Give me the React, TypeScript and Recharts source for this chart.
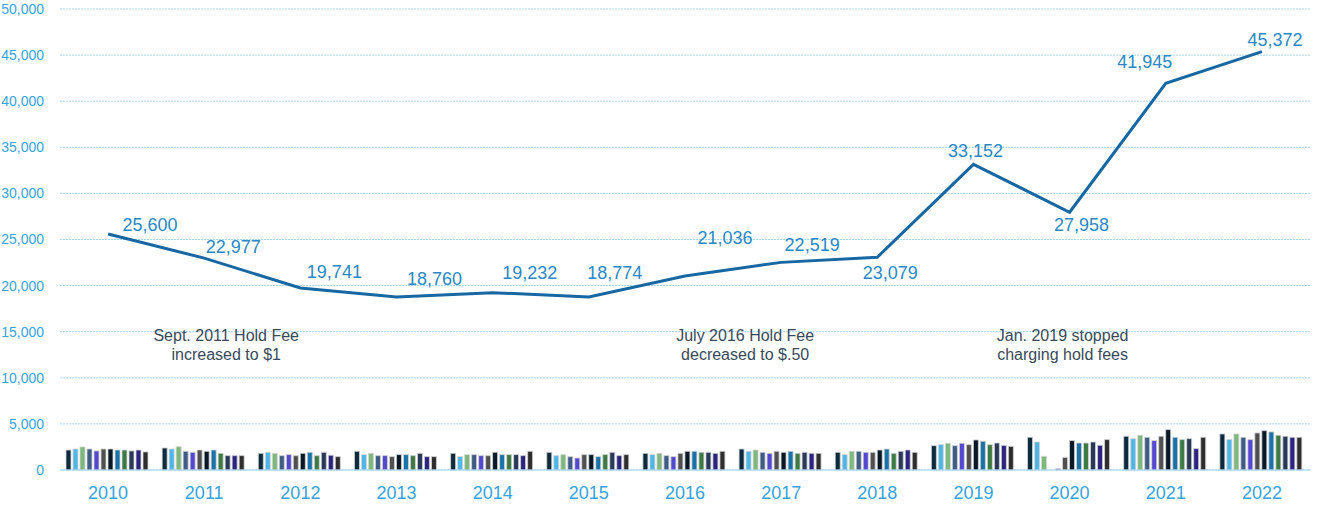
import {
  ComposedChart,
  Bar,
  Line,
  XAxis,
  YAxis,
  CartesianGrid,
  LabelList,
  ReferenceDot,
} from "recharts";

const years = ["2010", "2011", "2012", "2013", "2014", "2015", "2016", "2017", "2018", "2019", "2020", "2021", "2022"];
const annualHolds = [25600, 22977, 19741, 18760, 19232, 18774, 21036, 22519, 23079, 33152, 27958, 41945, 45372];

// monthly holds, one array per month across the years
const jan = [2170, 2390, 1810, 2030, 1810, 1920, 1810, 2280, 1920, 2640, 3550, 3660, 3910];
const feb = [2280, 2280, 1920, 1670, 1450, 1560, 1670, 2030, 1670, 2750, 3040, 3400, 3300];
const mar = [2500, 2530, 1810, 1810, 1670, 1670, 1810, 2170, 2030, 2900, 1480, 3770, 3910];
const apr = [2280, 2030, 1560, 1560, 1670, 1450, 1560, 1920, 2030, 2640, 0, 3550, 3550];
const may = [2070, 1920, 1670, 1560, 1560, 1300, 1450, 1810, 1920, 2900, 145, 3190, 3300];
const jun = [2280, 2170, 1560, 1450, 1560, 1670, 1810, 2030, 1920, 2750, 1370, 3660, 4020];
const jul = [2280, 2030, 1810, 1670, 1920, 1670, 2030, 1920, 2170, 3260, 3190, 4380, 4270];
const aug = [2170, 2170, 1920, 1670, 1670, 1450, 2030, 2030, 2280, 3120, 2930, 3550, 4130];
const sep = [2170, 1810, 1560, 1560, 1670, 1670, 1920, 1810, 1810, 2750, 2930, 3300, 3770];
const oct = [2070, 1560, 1920, 1810, 1670, 1920, 1920, 1920, 2030, 2930, 3040, 3400, 3660];
const nov = [2170, 1560, 1600, 1450, 1560, 1560, 1810, 1810, 2170, 2670, 2680, 2320, 3550];
const dec = [1960, 1560, 1450, 1450, 2030, 1670, 2030, 1810, 1920, 2560, 3300, 3550, 3550];

const monthKeys = ["jan", "feb", "mar", "apr", "may", "jun", "jul", "aug", "sep", "oct", "nov", "dec"];
const monthSeries = [jan, feb, mar, apr, may, jun, jul, aug, sep, oct, nov, dec];
const monthColors = [
  "#0d2b3e", "#4fb6e8", "#7db87c", "#3e5c85", "#5548d0", "#505050",
  "#081826", "#1a73a8", "#3d7a44", "#283a58", "#2c2480", "#2e2e2e",
];

const yTicks = [0, 5000, 10000, 15000, 20000, 25000, 30000, 35000, 40000, 45000, 50000];

// where each value label sits relative to its point
const labelOffsets: Array<[number, number]> = [
  [42, -9], [29, -11], [34, -16], [38, -18], [37, -20], [26, -24], [40, -38],
  [31, -17], [13, 16], [2, -13], [12, 13], [-21, -21], [13, -12],
];

const notes = [
  { year: "2011", lines: ["Sept. 2011 Hold Fee", "increased to $1"], dx: 22 },
  { year: "2017", lines: ["July 2016 Hold Fee", "decreased to $.50"], dx: -36 },
  { year: "2020", lines: ["Jan. 2019 stopped", "charging hold fees"], dx: -7 },
];

const data = years.map((year, i) => {
  const row: Record<string, number | string> = { year, total: annualHolds[i] };
  monthKeys.forEach((k, m) => {
    row[k] = monthSeries[m][i];
  });
  return row;
});

const fmt = (v: number) => v.toLocaleString("en-US");
const font = "'Liberation Sans', Arial, sans-serif";

const ValueLabel = (props: any) => {
  const { x, y, value, index } = props;
  const [dx, dy] = labelOffsets[index];
  return (
    <text
      x={x + dx}
      y={y + dy}
      textAnchor="middle"
      dominantBaseline="central"
      fill="#2a88c6"
      fontSize={18}
      fontFamily={font}
    >
      {fmt(value)}
    </text>
  );
};

const NoteLabel = (lines: string[], dx: number) => (props: any) => {
  const { viewBox } = props;
  const cx = viewBox.x + viewBox.width / 2 + dx;
  const cy = viewBox.y + viewBox.height / 2;
  return (
    <text textAnchor="middle" fill="#39495a" fontSize={16} fontFamily={font}>
      {lines.map((t, i) => (
        <tspan key={i} x={cx} y={cy + 9 + i * 19}>
          {t}
        </tspan>
      ))}
    </text>
  );
};

export default function App() {
  return (
    <div style={{ position: "fixed", left: 0, top: 0, background: "#fff" }}>
      <ComposedChart
        width={1325}
        height={506}
        data={data}
        margin={{ top: 9, right: 15, bottom: 0, left: 0 }}
        barGap={2}
        barCategoryGap={6}
      >
        <CartesianGrid
          vertical={false}
          stroke="#a3d6f2"
          strokeDasharray="2 1"
        />
        <XAxis
          dataKey="year"
          axisLine={{ stroke: "#a3d6f2" }}
          tickLine={false}
          height={36}
          tick={{ fill: "#38a3e0", fontSize: 18, fontFamily: font }}
          tickMargin={10}
        />
        <YAxis
          width={60}
          domain={[0, 50000]}
          ticks={yTicks}
          axisLine={false}
          tickLine={false}
          tickFormatter={fmt}
          tick={{ fill: "#38a3e0", fontSize: 14, fontFamily: font }}
          tickMargin={10}
        />
        {monthKeys.map((k, m) => (
          <Bar
            key={k}
            dataKey={k}
            fill={monthColors[m]}
            stroke="#d4d4d4"
            strokeWidth={0.8}
            isAnimationActive={false}
          />
        ))}
        <Line
          type="linear"
          dataKey="total"
          stroke="#1767a2"
          strokeWidth={3}
          dot={false}
          isAnimationActive={false}
        >
          <LabelList dataKey="total" content={ValueLabel} />
        </Line>
        {notes.map((n) => (
          <ReferenceDot
            key={n.year}
            x={n.year}
            y={15000}
            r={0}
            stroke="none"
            label={NoteLabel(n.lines, n.dx)}
          />
        ))}
      </ComposedChart>
    </div>
  );
}
